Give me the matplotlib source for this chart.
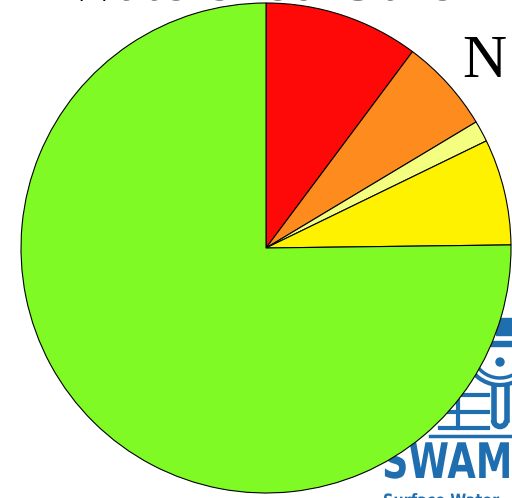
import matplotlib.pyplot as plt
from matplotlib.patches import Arc, PathPatch, Rectangle, Circle
from matplotlib.textpath import TextPath
from matplotlib.font_manager import FontProperties
from matplotlib.transforms import Affine2D

# slice shares (percent), clockwise from 12 o'clock
labels = ['Red', 'Orange', 'Light yellow', 'Yellow', 'Green']
shares = [10.2, 6.2, 1.4, 7.0, 75.2]
colors = ['#ff0808', '#fd8b1e', '#f4ff80', '#fff200', '#80fa24']

fig = plt.figure(figsize=(5.12, 4.98), dpi=100)
ax = fig.add_axes([0, 0, 1, 1])

# logo behind the pie (mostly hidden)
blue = '#1f6eb0'
bold = FontProperties(family='DejaVu Sans', weight='bold')
swamp = TextPath((0, 0), 'SWAMP', size=49, prop=bold)
ax.add_patch(PathPatch(swamp, color=blue, lw=0, zorder=0,
                       transform=Affine2D().scale(0.75, 1).translate(382, 20) + ax.transData))
small = TextPath((0, 0), 'Surface Water', size=17, prop=bold)
ax.add_patch(PathPatch(small, color=blue, lw=0, zorder=0,
                       transform=Affine2D().scale(0.85, 1).translate(383, -8) + ax.transData))

ax.add_patch(Rectangle((496, 163), 16, 17, color=blue, zorder=0))
ax.add_patch(Rectangle((490, 152), 22, 5, color=blue, zorder=0))
ax.add_patch(Circle((500, 136), 4, color=blue, zorder=0))
ax.add_patch(Arc((500, 148), 70, 70, theta1=200, theta2=330, color=blue, lw=3, zorder=0))
ax.add_patch(Arc((500, 148), 56, 56, theta1=200, theta2=330, color=blue, lw=2.5, zorder=0))
for y in [103, 86, 70]:
    ax.plot([440, 488], [y, y], color=blue, lw=3, zorder=0)
ax.plot([458, 458], [70, 103], color=blue, lw=3, zorder=0)
ax.plot([494, 494], [78, 110], color=blue, lw=4, zorder=0)
ax.plot([507, 507], [78, 110], color=blue, lw=4, zorder=0)
ax.add_patch(Arc((500, 78), 13, 13, theta1=180, theta2=360, color=blue, lw=4, zorder=0))
ax.plot([430, 512], [62, 62], color=blue, lw=2.5, zorder=0)

ax.pie(shares, colors=colors, startangle=90, counterclock=False,
       center=(266, 250), radius=245,
       wedgeprops=dict(edgecolor='black', linewidth=0.8))

ax.set_xlim(0, 512)
ax.set_ylim(0, 498)
ax.set_aspect('equal')
ax.axis('off')

ax.text(270, 498, 'Watershed Other', fontsize=44, family='Liberation Serif',
        ha='center', va='baseline', zorder=3)
ax.text(462, 421, 'N', fontsize=44, family='Liberation Serif',
        ha='left', va='baseline')

fig.savefig('out.png', dpi=100)
